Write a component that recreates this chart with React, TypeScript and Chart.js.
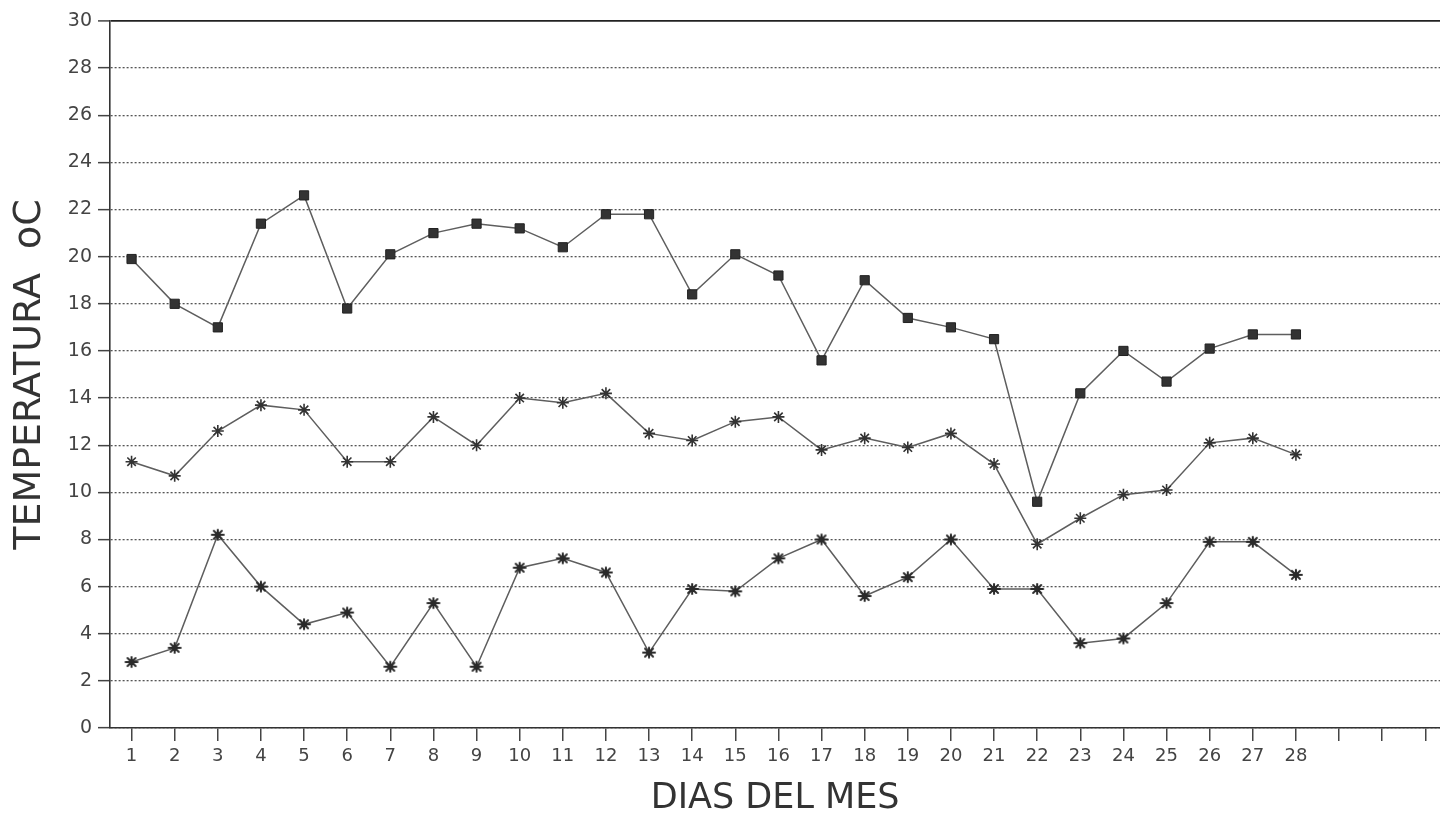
import React, { useEffect, useRef } from 'react';
import { Chart, registerables } from 'chart.js';

Chart.register(...registerables);

// ---- data ----
const days: number[] = [1, 2, 3, 4, 5, 6, 7, 8, 9, 10, 11, 12, 13, 14, 15, 16, 17, 18, 19, 20, 21, 22, 23, 24, 25, 26, 27, 28];
const dayTicks: number[] = [1, 2, 3, 4, 5, 6, 7, 8, 9, 10, 11, 12, 13, 14, 15, 16, 17, 18, 19, 20, 21, 22, 23, 24, 25, 26, 27, 28, 29, 30, 31];
const lastLabelledDay = 28;

const tempMax: number[] = [19.9, 18.0, 17.0, 21.4, 22.6, 17.8, 20.1, 21.0, 21.4, 21.2, 20.4, 21.8, 21.8, 18.4, 20.1, 19.2, 15.6, 19.0, 17.4, 17.0, 16.5, 9.6, 14.2, 16.0, 14.7, 16.1, 16.7, 16.7];
const tempMean: number[] = [11.3, 10.7, 12.6, 13.7, 13.5, 11.3, 11.3, 13.2, 12.0, 14.0, 13.8, 14.2, 12.5, 12.2, 13.0, 13.2, 11.8, 12.3, 11.9, 12.5, 11.2, 7.8, 8.9, 9.9, 10.1, 12.1, 12.3, 11.6];
const tempMin: number[] = [2.8, 3.4, 8.2, 6.0, 4.4, 4.9, 2.6, 5.3, 2.6, 6.8, 7.2, 6.6, 3.2, 5.9, 5.8, 7.2, 8.0, 5.6, 6.4, 8.0, 5.9, 5.9, 3.6, 3.8, 5.3, 7.9, 7.9, 6.5];

const yMin = 0;
const yMax = 30;
const yStep = 2;

const xTitle = 'DIAS DEL MES';
const yTitle = 'TEMPERATURA  oC';

function makeMinMarker(): HTMLCanvasElement {
  const c = document.createElement('canvas');
  c.width = 16;
  c.height = 14;
  const g = c.getContext('2d') as CanvasRenderingContext2D;
  const cx = 8;
  const cy = 7;
  g.strokeStyle = '#2a2a2a';
  g.fillStyle = '#2a2a2a';
  g.lineWidth = 2;
  g.lineCap = 'round';
  g.beginPath();
  g.moveTo(cx - 6, cy);
  g.lineTo(cx + 6, cy);
  g.moveTo(cx - 4, cy - 4);
  g.lineTo(cx + 4, cy + 4);
  g.moveTo(cx - 4, cy + 4);
  g.lineTo(cx + 4, cy - 4);
  g.moveTo(cx, cy - 5);
  g.lineTo(cx, cy + 5);
  g.stroke();
  g.beginPath();
  g.moveTo(cx, cy - 4);
  g.lineTo(cx + 4, cy);
  g.lineTo(cx, cy + 4);
  g.lineTo(cx - 4, cy);
  g.closePath();
  g.fill();
  return c;
}

const toPoints = (vals: number[]) => vals.map((v, i) => ({ x: days[i], y: v }));

const CANVAS_W = 1448;
const CANVAS_H = 820;

export default function App() {
  const ref = useRef<HTMLCanvasElement | null>(null);

  useEffect(() => {
    if (!ref.current) return;
    const lineColor = '#5e5e5e';
    const chart = new Chart(ref.current, {
      type: 'line',
      data: {
        datasets: [
          {
            label: 'Máxima',
            data: toPoints(tempMax),
            borderColor: lineColor,
            borderWidth: 1.5,
            pointStyle: 'rect',
            pointRadius: 6.5,
            pointBackgroundColor: '#333333',
            pointBorderColor: '#222222',
            pointBorderWidth: 1,
            tension: 0,
          },
          {
            label: 'Media',
            data: toPoints(tempMean),
            borderColor: lineColor,
            borderWidth: 1.5,
            pointStyle: 'star',
            pointRadius: 6,
            pointBorderColor: '#333333',
            pointBackgroundColor: '#333333',
            pointBorderWidth: 1.6,
            tension: 0,
          },
          {
            label: 'Mínima',
            data: toPoints(tempMin),
            borderColor: lineColor,
            borderWidth: 1.5,
            pointStyle: makeMinMarker(),
            tension: 0,
          },
        ],
      },
      options: {
        animation: false,
        responsive: false,
        layout: { padding: { top: 21, left: 0, right: 0, bottom: 0 } },
        plugins: {
          legend: { display: false },
          tooltip: { enabled: false },
        },
        scales: {
          x: {
            type: 'linear',
            min: 0.5,
            max: 31.35,
            afterBuildTicks: (scale: any) => {
              scale.ticks = dayTicks.map((v) => ({ value: v }));
            },
            afterFit: (scale: any) => {
              scale.height = 92;
              scale.paddingLeft = 0;
              scale.paddingRight = 0;
            },
            grid: {
              drawOnChartArea: false,
              drawTicks: true,
              tickLength: 13,
              color: '#444444',
              lineWidth: 1.5,
            },
            border: { display: true, color: '#333333', width: 1.6 },
            ticks: {
              padding: 5,
              color: '#444444',
              font: { family: 'DejaVu Sans', size: 18 },
              callback: (v: any) => (Number(v) <= lastLabelledDay ? String(v) : ''),
              maxRotation: 0,
              autoSkip: false,
            },
            title: {
              display: true,
              text: xTitle,
              color: '#333333',
              font: { family: 'DejaVu Sans', size: 35 },
              padding: { top: 0, bottom: 0 },
            },
          },
          y: {
            type: 'linear',
            min: yMin,
            max: yMax,
            afterFit: (scale: any) => {
              scale.width = 110;
            },
            ticks: {
              stepSize: yStep,
              padding: 6,
              color: '#444444',
              font: { family: 'DejaVu Sans', size: 19 },
            },
            grid: {
              drawOnChartArea: true,
              drawTicks: true,
              tickLength: 12,
              color: (ctx: any) => (ctx.tick && ctx.tick.value === yMax ? '#222222' : '#555555'),
              lineWidth: (ctx: any) => (ctx.tick && ctx.tick.value === yMax ? 1.8 : 1.3),
              tickColor: '#444444',
              tickWidth: 1.5,
              tickBorderDash: [],
            },
            border: {
              display: true,
              color: '#333333',
              width: 1.6,
              dash: (ctx: any) => (ctx.tick && ctx.tick.value === yMax ? [] : [2, 2]),
            },
            title: {
              display: true,
              text: yTitle,
              color: '#333333',
              font: { family: 'DejaVu Sans', size: 38 },
              padding: { top: 7, bottom: 0 },
            },
          },
        },
      } as any,
    });
    return () => chart.destroy();
  }, []);

  return (
    <div style={{ position: 'fixed', left: 0, top: 0, width: 1440, height: 820, overflow: 'hidden', background: '#ffffff' }}>
      <canvas ref={ref} width={CANVAS_W} height={CANVAS_H} style={{ display: 'block', width: CANVAS_W, height: CANVAS_H }} />
    </div>
  );
}
